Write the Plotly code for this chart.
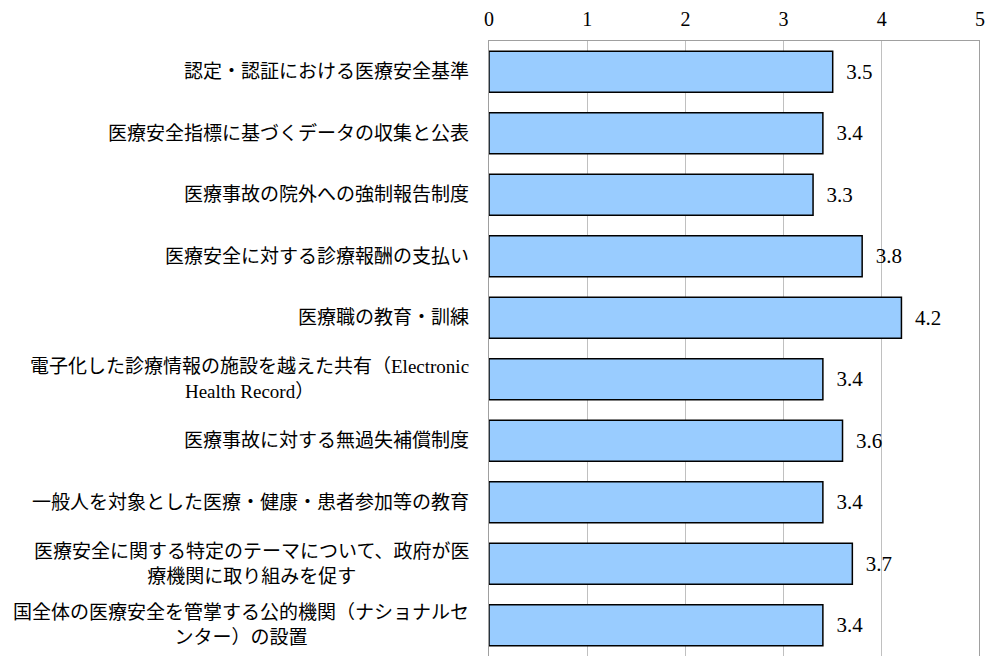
import plotly.graph_objects as go

# Survey items (top to bottom) and their mean scores
items = [
    "認定・認証における医療安全基準",
    "医療安全指標に基づくデータの収集と公表",
    "医療事故の院外への強制報告制度",
    "医療安全に対する診療報酬の支払い",
    "医療職の教育・訓練",
    "電子化した診療情報の施設を越えた共有（Electronic<br>Health Record）",
    "医療事故に対する無過失補償制度",
    "一般人を対象とした医療・健康・患者参加等の教育",
    "医療安全に関する特定のテーマについて、政府が医<br>療機関に取り組みを促す",
    "国全体の医療安全を管掌する公的機関（ナショナルセ<br>ンター）の設置",
]
scores = [3.5, 3.4, 3.3, 3.8, 4.2, 3.4, 3.6, 3.4, 3.7, 3.4]
x_ticks = [0, 1, 2, 3, 4, 5]

FONT = "Liberation Serif, Noto Sans CJK JP, serif"

fig = go.Figure(
    go.Bar(
        x=scores,
        y=list(range(len(items))),
        orientation="h",
        marker=dict(color="#99CCFF", line=dict(color="#000000", width=1.5)),
        text=[f"  {v:.1f}" for v in scores],
        textposition="outside",
        textfont=dict(family=FONT, size=21, color="#000000"),
        cliponaxis=False,
    )
)

# category labels, right-aligned against the axis, wrapped lines centred
for i, label in enumerate(items):
    fig.add_annotation(
        x=0, y=i, xref="x", yref="y",
        text=label, showarrow=False,
        xanchor="right", yanchor="middle", align="center",
        xshift=-18,
        font=dict(family=FONT, size=19, color="#000000"),
    )

fig.update_layout(
    width=987,
    height=656,
    margin=dict(l=489, r=7, t=41, b=0),
    paper_bgcolor="white",
    plot_bgcolor="white",
    bargap=0.335,
    showlegend=False,
    font=dict(family=FONT, size=19, color="#000000"),
)

fig.update_xaxes(
    side="top",
    range=[0, 5],
    tickvals=x_ticks,
    ticktext=[str(t) for t in x_ticks],
    tickfont=dict(family=FONT, size=20),
    showgrid=True,
    gridcolor="#C0C0C0",
    gridwidth=1,
    showline=True,
    linecolor="#A0A0A0",
    linewidth=1,
    ticks="",
    ticklabelstandoff=6,
    zeroline=False,
)

fig.update_yaxes(
    range=[len(items) - 0.5, -0.5],
    showline=True,
    linecolor="#A0A0A0",
    linewidth=1,
    ticks="",
    showticklabels=False,
    showgrid=False,
    zeroline=False,
)

# right-hand frame line at x = 5
fig.add_shape(type="line", xref="x", yref="paper", x0=5, x1=5, y0=0, y1=1,
              line=dict(color="#808080", width=1.5))

fig.write_html("out.html")
